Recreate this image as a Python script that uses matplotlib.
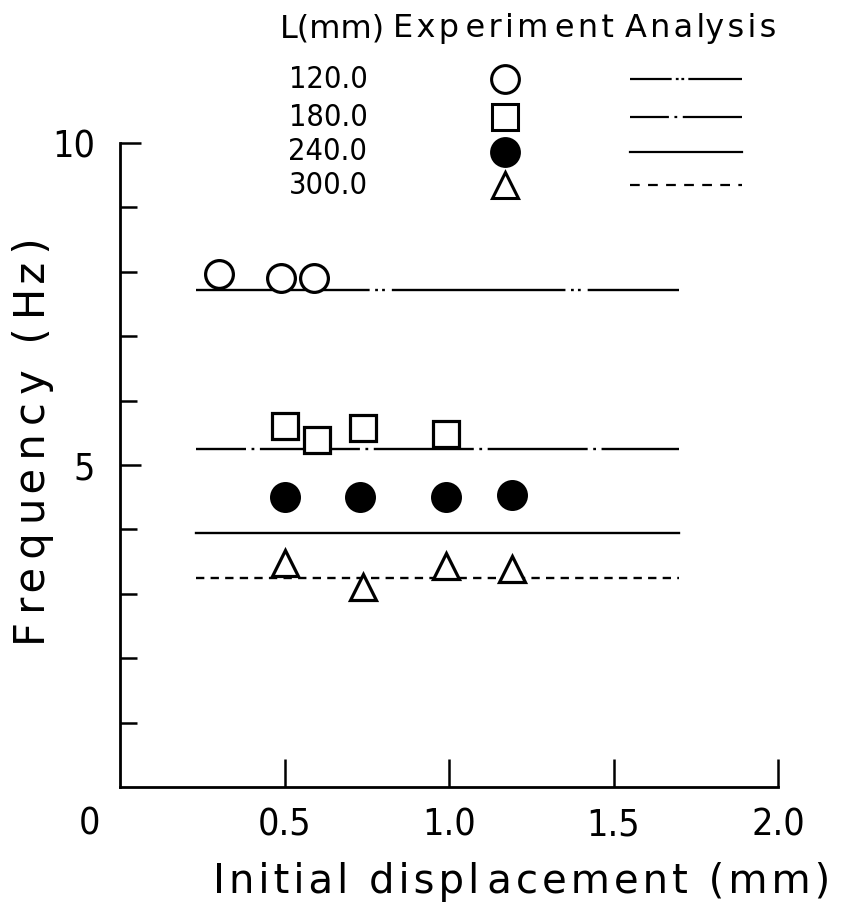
import matplotlib
matplotlib.use("Agg")
import matplotlib.pyplot as plt
from matplotlib import font_manager as fm

plt.rcParams['font.family'] = ['DejaVu Sans']
plt.rcParams['lines.scale_dashes'] = False

# ---- data ----
lengths = ["120.0", "180.0", "240.0", "300.0"]
exp_x = {
    "120.0": [0.30, 0.49, 0.59],
    "180.0": [0.50, 0.60, 0.74, 0.99],
    "240.0": [0.50, 0.73, 0.99, 1.19],
    "300.0": [0.50, 0.74, 0.99, 1.19],
}
exp_y = {
    "120.0": [7.97, 7.90, 7.90],
    "180.0": [5.60, 5.39, 5.57, 5.48],
    "240.0": [4.50, 4.50, 4.50, 4.53],
    "300.0": [3.48, 3.10, 3.43, 3.39],
}
analysis_x = [0.23, 1.70]
analysis_y = {"120.0": 7.72, "180.0": 5.25, "240.0": 3.94, "300.0": 3.25}
x_ticks = [0.5, 1.0, 1.5, 2.0]
x_ticklabels = ["0.5", "1.0", "1.5", "2.0"]
y_major = [5, 10]
y_minor = [1, 2, 3, 4, 6, 7, 8, 9]
header = ["L(mm)", "Experiment", "Analysis"]
xlabel = "Initial displacement (mm)"
ylabel = "Frequency (Hz)"

# ---- fonts ----
names = {f.name for f in fm.fontManager.ttflist}
narrow_family = 'Liberation Sans Narrow' if 'Liberation Sans Narrow' in names else 'DejaVu Sans'
def numfont(size):
    return fm.FontProperties(family=narrow_family, stretch='condensed', size=size)

# ---- styles ----
markers = {"120.0": dict(marker='o', mfc='white'),
           "180.0": dict(marker='s', mfc='white'),
           "240.0": dict(marker='o', mfc='black'),
           "300.0": dict(marker='^', mfc='white')}
msizes = {"120.0": 20, "180.0": 18.5, "240.0": 20, "300.0": 19}
dashes = {"120.0": (0, (125, 4, 2, 3, 2, 5)),
          "180.0": (36, (72, 4, 2, 4)),
          "240.0": '-',
          "300.0": (0, (6, 4.5))}
leg_dashes = {"120.0": (0, (30, 3, 2, 2, 2, 3, 50, 10)),
              "180.0": (0, (28, 4, 2, 4, 45, 10)),
              "240.0": '-',
              "300.0": (0, (7, 6))}

W, H = 849, 902
fig = plt.figure(figsize=(W / 100, H / 100), dpi=100)
renderer = fig.canvas.get_renderer()


def tracked(text, prop, target_px):
    """Widen a string with hair spaces so that it spans about target_px."""
    def width(s):
        return renderer.get_text_width_height_descent(s, prop, ismath=False)[0]
    w0 = width(text)
    if w0 >= target_px:
        return text
    sep, ws = ' ', width('x x') - width('xx')
    for cand in ['\u200a', '\u2009']:
        d = width('x' + cand + 'x') - width('xx')
        if d > 0.5:
            sep, ws = cand, d
            break
    gaps = len(text) - 1
    n_total = int(round((target_px - w0) / ws))
    out = text[0]
    for i, ch in enumerate(text[1:]):
        k = round((i + 1) * n_total / gaps) - round(i * n_total / gaps)
        out += sep * k + ch
    return out


ax = fig.add_axes([120 / W, 1 - 787 / H, (778 - 120) / W, (787 - 143) / H])
ax.set_xlim(0, 2.0)
ax.set_ylim(0, 10)

for L in lengths:
    ax.plot(analysis_x, [analysis_y[L]] * 2, color='black', lw=1.7,
            linestyle=dashes[L], zorder=1)
    ax.plot(exp_x[L], exp_y[L], linestyle='none', color='black',
            mec='black', mew=2.3, ms=msizes[L], zorder=3, clip_on=False,
            **markers[L])

for s in ['top', 'right']:
    ax.spines[s].set_visible(False)
for s in ['left', 'bottom']:
    ax.spines[s].set_linewidth(2)

ax.set_xticks(x_ticks)
ax.set_xticklabels(x_ticklabels, fontproperties=numfont(27))
ax.set_yticks(y_major)
ax.set_yticklabels([str(v) for v in y_major], fontproperties=numfont(27))
ax.set_yticks(y_minor, minor=True)
ax.tick_params(axis='x', direction='in', length=20, width=1.8, pad=15)
ax.tick_params(axis='y', which='major', direction='in', length=15, width=1.8,
               pad=18)
ax.tick_params(axis='y', which='minor', direction='in', length=12, width=1.8)

# origin label, in the tick-label row left of the origin
ax.annotate("0", xy=(0, 0), xycoords='data', xytext=(-22, -27),
            textcoords='offset points', ha='center', va='center',
            fontproperties=numfont(27))

xprop = fm.FontProperties(family='DejaVu Sans', size=29)
fig.text(213 / W, 1 - 893 / H, tracked(xlabel, xprop, 617), ha='left',
         va='baseline', fontproperties=xprop)
yprop = fm.FontProperties(family='DejaVu Sans', size=30)
fig.text(33 / W, 1 - 442 / H, tracked(ylabel, yprop, 405), ha='center',
         va='center', rotation=90, fontproperties=yprop)

# ---- legend (pixel-coordinate overlay) ----
lax = fig.add_axes([0, 0, 1, 1])
lax.set_xlim(0, W)
lax.set_ylim(H, 0)
lax.axis('off')
hprop = fm.FontProperties(family='DejaVu Sans', size=23)
for txt, x0, wpx in zip(header, [280, 393, 625], [100, 220, 150]):
    lax.text(x0, 29, tracked(txt, hprop, wpx), ha='left', va='center',
             fontproperties=hprop)
row_y = [79, 117, 152, 185]
for L, yy in zip(lengths, row_y):
    lax.text(328, yy, L, ha='center', va='center', fontproperties=numfont(22))
    lax.plot([505], [yy], linestyle='none', color='black', mec='black',
             mew=2.2, ms=msizes[L], **markers[L])
    lax.plot([630, 742], [yy, yy], color='black', lw=1.6,
             linestyle=leg_dashes[L])

fig.savefig("out.png", dpi=100)
